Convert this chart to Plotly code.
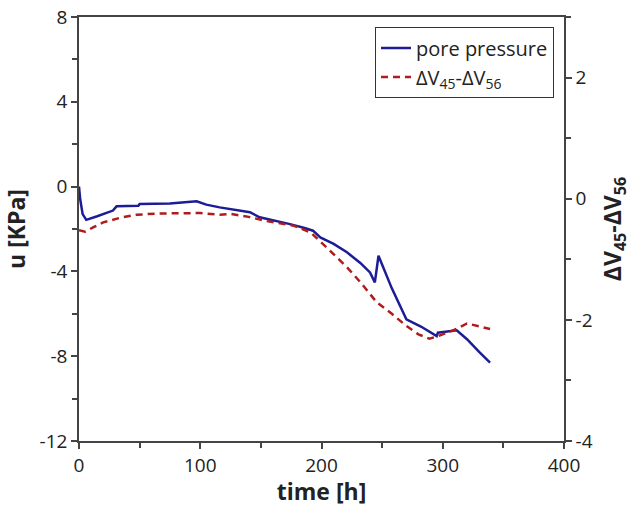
import plotly.graph_objects as go

# pore pressure u [KPa] vs time [h]
t_pore = [0, 1, 3, 6, 15, 28, 31, 49, 50, 75, 97, 105, 116, 130, 141, 149, 162, 174, 186, 193,
          199, 210, 221, 232, 240, 244, 247, 258, 270, 282, 295, 296, 311.5, 320, 330, 339]
u_pore = [0, -0.6, -1.3, -1.57, -1.4, -1.13, -0.93, -0.9, -0.82, -0.8, -0.69, -0.85, -0.98, -1.1,
          -1.21, -1.45, -1.6, -1.77, -1.95, -2.08, -2.4, -2.7, -3.1, -3.6, -4.05, -4.52, -3.26,
          -4.8, -6.26, -6.6, -7.05, -6.89, -6.78, -7.2, -7.8, -8.3]

# dV45 - dV56 vs time [h]
t_dv = [0, 5, 12, 20, 35, 47.6, 65, 80.5, 100, 116, 124.5, 140, 155, 177, 191, 204, 221, 233,
        245.5, 258, 270, 280, 289, 296, 311.5, 320, 339]
dv = [-0.52, -0.545, -0.47, -0.39, -0.31, -0.264, -0.245, -0.236, -0.236, -0.264, -0.25, -0.3,
      -0.37, -0.445, -0.556, -0.80, -1.13, -1.4, -1.71, -1.9, -2.10, -2.24, -2.31, -2.27, -2.15,
      -2.06, -2.15]

x_ticks = [0, 100, 200, 300, 400]
x_ticklabels = ["0", "100", "200", "300", "400"]
y_ticks = [-12, -8, -4, 0, 4, 8]
y_ticklabels = ["-12", "-8", "-4", "0", "4", "8"]
y2_ticks = [-4, -2, 0, 2]
y2_ticklabels = ["-4", "-2", "0", "2"]

FONT = "Open Sans"
AX = "#444444"

fig = go.Figure()
fig.add_trace(go.Scatter(x=t_pore, y=u_pore, mode="lines", name="pore pressure",
                         legendgroup="a",
                         line=dict(color="#1c1c96", width=2.5)))
fig.add_trace(go.Scatter(x=t_dv, y=dv, mode="lines", name="ΔV<sub>45</sub>-ΔV<sub>56</sub>",
                         legendgroup="b",
                         yaxis="y2", line=dict(color="#b01c1c", width=2.5, dash="7px,5px")))

fig.update_layout(
    width=631, height=507,
    margin=dict(l=79, r=67, t=17, b=66),
    paper_bgcolor="white", plot_bgcolor="white",
    font=dict(family=FONT, size=19, color="#222222"),
    showlegend=True,
    legend=dict(x=0.979, y=0.976, xanchor="right", yanchor="top",
                bgcolor="white", bordercolor="#333333", borderwidth=1.2,
                font=dict(family=FONT, size=20, color="#222222"),
                traceorder="grouped", tracegroupgap=0, itemwidth=30),
    xaxis=dict(range=[0, 400], tickmode="array", tickvals=x_ticks, ticktext=x_ticklabels,
               ticks="outside", ticklen=6, tickwidth=1.5, tickcolor=AX,
               showline=True, linecolor=AX, linewidth=1.5, mirror=True,
               showgrid=False, zeroline=False, automargin=False,
               ticklabeloverflow="allow",
               minor=dict(tickmode="linear", tick0=0, dtick=50, ticks="outside", ticklen=5,
                          tickwidth=1.5, tickcolor=AX),
               title=dict(text="<b>time [h]</b>", font=dict(size=23), standoff=1)),
    yaxis=dict(range=[-12, 8], tickmode="array", tickvals=y_ticks, ticktext=y_ticklabels,
               ticks="outside", ticklen=6, tickwidth=1.5, tickcolor=AX,
               showline=True, linecolor=AX, linewidth=1.5,
               showgrid=False, zeroline=False, automargin=False,
               ticklabeloverflow="allow",
               minor=dict(tickmode="linear", tick0=0, dtick=2, ticks="outside", ticklen=5,
                          tickwidth=1.5, tickcolor=AX),
               title=dict(text="<b>u [KPa]</b>", font=dict(size=23), standoff=16)),
    yaxis2=dict(range=[-4, 3], overlaying="y", side="right",
                tickmode="array", tickvals=y2_ticks, ticktext=y2_ticklabels,
                ticks="outside", ticklen=6, tickwidth=1.5, tickcolor=AX,
                showline=True, linecolor=AX, linewidth=1.5,
                showgrid=False, zeroline=False, automargin=False,
                ticklabeloverflow="allow",
                minor=dict(tickmode="linear", tick0=0, dtick=1, ticks="outside", ticklen=5,
                           tickwidth=1.5, tickcolor=AX),
                title=dict(text="<b>ΔV<sub>45</sub>-ΔV<sub>56</sub></b>", font=dict(size=23),
                           standoff=14)),
)

fig.write_html("out.html", config={"displayModeBar": False},
               post_script="document.body.style.margin='0';document.body.style.overflow='hidden';")
